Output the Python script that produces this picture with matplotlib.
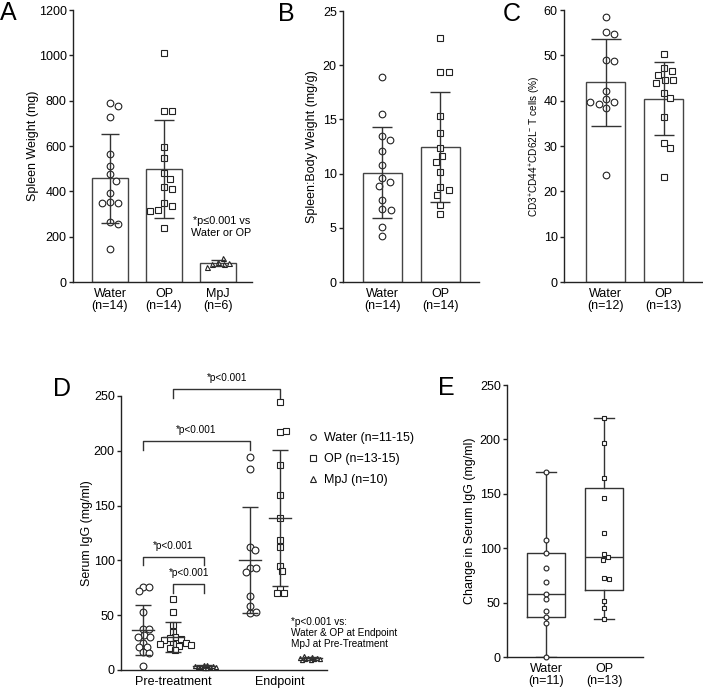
import numpy as np
import matplotlib.pyplot as plt
from matplotlib.lines import Line2D

plt.rcParams['font.family'] = ['Liberation Sans', 'DejaVu Sans']
plt.rcParams['mathtext.fontset'] = 'custom'
plt.rcParams['mathtext.rm'] = 'Liberation Sans'
plt.rcParams['mathtext.default'] = 'regular'

# ---- data ----
# A: spleen weight (mg)
a_groups = ['Water\n(n=14)', 'OP\n(n=14)', 'MpJ\n(n=6)']
a_water = [788, 776, 729, 565, 513, 475, 447, 394, 354, 347, 347, 266, 256, 147]
a_op = [1012, 753, 753, 597, 546, 479, 453, 418, 410, 347, 337, 319, 315, 237]
a_mpj = [88, 105, 80, 78, 68, 85]
a_mean = [457, 498, 83]
a_sd = [198, 217, 13]

# B: spleen:body weight (mg/g)
b_groups = ['Water\n(n=14)', 'OP\n(n=14)']
b_water = [18.95, 15.54, 13.45, 13.14, 12.1, 10.78, 9.55, 9.21, 8.84, 7.55, 6.69, 6.63, 5.04, 4.24]
b_op = [22.54, 19.35, 19.35, 15.32, 13.70, 12.38, 11.61, 11.09, 10.17, 8.72, 8.48, 8.02, 7.09, 6.26]
b_mean = [10.1, 12.44]
b_sd = [4.18, 5.05]

# C: CD3+CD44+CD62L- T cells (%)
c_groups = ['Water\n(n=12)', 'OP\n(n=13)']
c_water = [58.4, 55.1, 54.6, 49.0, 48.8, 42.2, 40.3, 39.7, 39.2, 39.6, 38.3, 23.5]
c_op = [50.3, 47.1, 46.5, 45.7, 44.6, 44.6, 43.9, 41.6, 40.5, 36.5, 30.7, 29.5, 23.2]
c_mean = [44.1, 40.4]
c_sd = [9.6, 8.05]

# D: serum IgG (mg/ml), pre-treatment and endpoint
d_series = ['Water (n=11-15)', 'OP (n=13-15)', 'MpJ (n=10)']
d_times = ['Pre-treatment', 'Endpoint']
d_pre_water = [76.0, 75.4, 71.8, 53.2, 37.1, 37.1, 31.9, 30.4, 30.4, 24.9, 21.3, 21.3, 16.4, 15.8, 4.0]
d_pre_op = [65, 53, 41, 35, 30, 29, 28, 27, 25, 24, 24, 23, 22, 20, 18]
d_pre_mpj = [1.5, 2.0, 2.5, 3.0, 3.0, 3.5, 4.0, 4.5, 5.0, 2.5]
d_end_water = [194, 183, 112.5, 109.5, 93.5, 93.5, 89.7, 67.8, 58.4, 52.3, 53.2]
d_end_op = [244.8, 216.8, 218.0, 187.0, 159.7, 138.4, 118.6, 111.9, 95.2, 90.3, 73.9, 69.9, 69.9]
d_end_mpj = [9, 10, 11, 12, 10, 11, 9, 12.5, 10, 11]
d_mean = [36.5, 30.4, 3.2, 100.4, 138.4, 10.6]
d_sd = [22.5, 13.7, 1.2, 48.6, 62.0, 1.4]

# E: change in serum IgG (mg/ml)
e_groups = ['Water\n(n=11)', 'OP\n(n=13)']
e_water = [169.8, 107.5, 95.9, 81.5, 69.2, 57.9, 53.0, 42.6, 37.1, 31.6, 0.3]
e_op = [220, 197, 164.8, 146.4, 114.2, 94.7, 91.6, 89.2, 72.9, 71.4, 51.5, 44.8, 35.2]

# ---- layout helpers ----
W, H = 703, 689
fig = plt.figure(figsize=(W / 100, H / 100), dpi=100)
FS = 9.0
INK = '#222222'


def add_ax(l, t, r, b):
    return fig.add_axes([l / W, 1 - b / H, (r - l) / W, (b - t) / H])


def style(ax):
    ax.spines['right'].set_visible(False)
    ax.spines['top'].set_visible(False)
    for s in ['left', 'bottom']:
        ax.spines[s].set_linewidth(1.0)
        ax.spines[s].set_color(INK)
    ax.tick_params(axis='y', length=3, width=1, pad=1.5, labelsize=FS, color=INK)
    ax.tick_params(axis='x', length=0, pad=4, labelsize=FS)
    for t in ax.get_xticklabels():
        t.set_linespacing(1.05)


def swarm(ax, x0, vals, d):
    # simple beeswarm in pixel space, returns x positions in data units
    pts = ax.transData.transform([(x0, v) for v in vals])
    px = pts[0, 0]
    placed = []
    offs = np.zeros(len(vals))
    for i, y in enumerate(pts[:, 1]):
        cands = [0.0]
        for (ox, oy) in placed:
            dy = abs(y - oy)
            if dy < d:
                dx = np.sqrt(d * d - dy * dy)
                cands += [ox + dx, ox - dx]
        cands.sort(key=abs)
        for c in cands:
            if all((c - ox) ** 2 + (y - oy) ** 2 >= d * d - 1e-6 for ox, oy in placed):
                break
        placed.append((c, y))
        offs[i] = c
    inv = ax.transData.inverted()
    return [inv.transform((px + o, y))[0] for o, y in zip(offs, pts[:, 1])]


def dots(ax, x0, vals, marker, ms, d):
    xs = swarm(ax, x0, vals, d)
    ax.plot(xs, vals, ls='', marker=marker, ms=ms, mfc='white', mec=INK, mew=0.8,
            zorder=3, clip_on=False)


def ylab(ax, xpx, text, size=FS):
    l = ax.get_position().x0 * W
    w = ax.get_position().width * W
    ax.text((xpx - l) / w, 0.5, text, rotation=90, ha='center', va='center',
            transform=ax.transAxes, fontsize=size)


mk = {'o': 4.8, 's': 4.4, '^': 3.6}

# ---- A ----
ax = add_ax(73, 10, 252, 282)
ax.set_xlim(-0.685, 2.63)
ax.set_ylim(0, 1200)
ax.set_yticks(np.arange(0, 1201, 200))
xs = np.arange(len(a_groups))
ax.bar(xs, a_mean, width=0.667, color='white', edgecolor='#444444', linewidth=1, zorder=1)
for x, v, m in zip(xs, [a_water, a_op, a_mpj], ['o', 's', '^']):
    dots(ax, x, v, m, mk[m], 8.5 if m != '^' else 6)
for x, mval, s, cs in zip(xs, a_mean, a_sd, [6.5, 7, 5]):
    ax.errorbar(x, mval, yerr=s, fmt='none', ecolor='#333333', elinewidth=1,
                capsize=cs, capthick=1, zorder=4)
ax.set_xticks(xs, a_groups)
style(ax)
ylab(ax, 33, 'Spleen Weight (mg)')
ax.text(2.06, 243, '*p\u22640.001 vs\nWater or OP', ha='center', va='center',
        fontsize=7.8, linespacing=1.15)

# ---- B ----
ax = add_ax(343, 11, 479, 282)
ax.set_xlim(-0.681, 1.664)
ax.set_ylim(0, 25)
ax.set_yticks(np.arange(0, 26, 5))
xs = np.arange(len(b_groups))
ax.bar(xs, b_mean, width=0.672, color='white', edgecolor='#444444', linewidth=1, zorder=1)
for x, v, m in zip(xs, [b_water, b_op], ['o', 's']):
    dots(ax, x, v, m, mk[m], 8.5)
for x, mval, s in zip(xs, b_mean, b_sd):
    ax.errorbar(x, mval, yerr=s, fmt='none', ecolor='#333333', elinewidth=1,
                capsize=7.5, capthick=1, zorder=4)
ax.set_xticks(xs, b_groups)
style(ax)
ylab(ax, 312, 'Spleen:Body Weight (mg/g)')

# ---- C ----
ax = add_ax(564, 10, 703, 282)
ax.set_xlim(-0.716, 1.68)
ax.set_ylim(0, 60)
ax.set_yticks(np.arange(0, 61, 10))
xs = np.arange(len(c_groups))
ax.bar(xs, c_mean, width=0.672, color='white', edgecolor='#444444', linewidth=1, zorder=1)
for x, v, m in zip(xs, [c_water, c_op], ['o', 's']):
    dots(ax, x, v, m, mk[m], 8.5)
for x, mval, s, cs in zip(xs, c_mean, c_sd, [11, 7]):
    ax.errorbar(x, mval, yerr=s, fmt='none', ecolor='#333333', elinewidth=1,
                capsize=cs, capthick=1, zorder=4)
ax.set_xticks(xs, c_groups)
style(ax)
ylab(ax, 535, r'CD3$^{+}$CD44$^{+}$CD62L$^{-}$ T cells (%)', size=7.2)

# ---- D ----
ax = add_ax(121, 396, 327, 670)
ax.set_xlim(-0.72, 6.03)
ax.set_ylim(0, 250)
ax.set_yticks(np.arange(0, 251, 50))
d_pos = [0, 1, 2, 3.5, 4.5, 5.5]
d_vals = [d_pre_water, d_pre_op, d_pre_mpj, d_end_water, d_end_op, d_end_mpj]
d_mk = ['o', 's', '^', 'o', 's', '^']
d_ms = {'o': 4.9, 's': 4.3, '^': 3.0}
for x, v, m in zip(d_pos, d_vals, d_mk):
    dots(ax, x, v, m, d_ms[m], 5.8 if m != '^' else 3.2)
for x, mval, s in zip(d_pos, d_mean, d_sd):
    ax.errorbar(x, mval, yerr=s, fmt='none', ecolor='#333333', elinewidth=1,
                capsize=5.5, capthick=1, zorder=4)
    ax.plot([x - 0.36, x + 0.36], [mval, mval], color='#333333', lw=1, zorder=4)
ax.set_xticks([1, 4.5], d_times)
style(ax)
ylab(ax, 87, 'Serum IgG (mg/ml)')

# significance brackets: (x1, x2, level)
brackets = [(1, 4.5, 256.4), (0, 3.5, 209), (0, 2, 103.5), (1, 2, 78.2)]
for x1, x2, yb in brackets:
    ax.plot([x1, x1, x2, x2], [yb - 8, yb, yb, yb - 8], color='#333333', lw=1,
            clip_on=False, zorder=5)
    ax.text((x1 + x2) / 2, yb + 10, '*p<0.001', ha='center', va='center', fontsize=7.2)
ax.text(4.85, 48.5, '*p<0.001 vs:\nWater & OP at Endpoint\nMpJ at Pre-Treatment',
        ha='left', va='top', fontsize=7.2, linespacing=1.15)

handles = [Line2D([], [], ls='', marker=m, ms=4.2, mfc='white', mec=INK, mew=0.8)
           for m in ['o', 's', '^']]
fig.legend(handles, d_series, loc='upper left', bbox_to_anchor=(308 / W, 1 - 432 / H),
           frameon=False, fontsize=FS, handlelength=0.8, handletextpad=0.45,
           labelspacing=0.72, borderpad=0, borderaxespad=0)

# ---- E ----
ax = add_ax(507, 385, 643, 657)
ax.set_xlim(-0.672, 1.672)
ax.set_ylim(0, 250)
ax.set_yticks(np.arange(0, 251, 50))
stats = []
for v in [e_water, e_op]:
    q1, med, q3 = np.percentile(v, [25, 50, 75], method='weibull')
    stats.append(dict(med=med, q1=q1, q3=q3, whislo=min(v), whishi=max(v), fliers=[]))
lp = dict(color='#333333', linewidth=1)
ax.bxp(stats, positions=[0, 1], widths=0.66, capwidths=0.34, showfliers=False,
       boxprops=lp, whiskerprops=lp, capprops=lp, medianprops=lp, manage_ticks=False)
for x, v, m in zip([0, 1], [e_water, e_op], ['o', 's']):
    dots(ax, x, v, m, 3.5, 5.0)
ax.set_xticks([0, 1], e_groups)
style(ax)
ylab(ax, 470, 'Change in Serum IgG (mg/ml)')

# panel letters
for lx, ly, lt in [(0, 20, 'A'), (278, 21, 'B'), (503, 21, 'C'), (53, 396, 'D'), (438, 395, 'E')]:
    fig.text(lx / W, 1 - ly / H, lt, fontsize=18, ha='left', va='baseline')

fig.savefig('out.png', dpi=100)
